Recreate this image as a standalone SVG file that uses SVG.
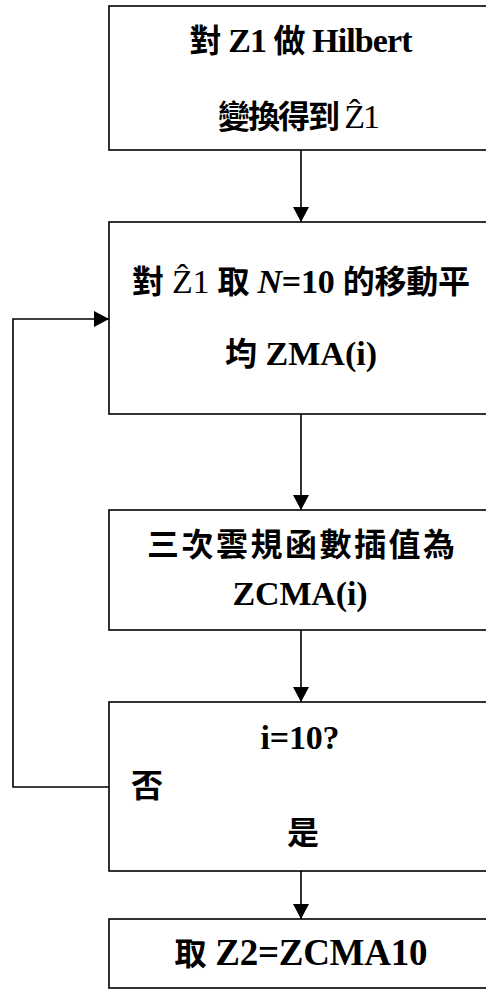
<svg xmlns="http://www.w3.org/2000/svg" width="486" height="990" viewBox="0 0 486 990">
<style>
.box{fill:#fff;stroke:#000;stroke-width:1.6}
.t{font-family:"Liberation Serif","Noto Sans CJK TC",serif;font-size:34px;font-weight:bold;fill:#000;text-anchor:middle}
.cjk{font-family:"Noto Sans CJK TC","Noto Sans CJK SC",sans-serif;font-weight:bold;font-size:32px}
.reg{font-family:"Liberation Serif","DejaVu Serif",serif;font-weight:normal}
.it{font-style:italic}
.ln{fill:none;stroke:#000;stroke-width:1.6}
</style>
<defs>
<marker id="ah" markerUnits="userSpaceOnUse" markerWidth="16" markerHeight="16" refX="15" refY="8" orient="auto">
<path d="M0,0 L15,8 L0,16 Z" fill="#000"/>
</marker>
</defs>
<g id="n1">
<rect class="box" x="109" y="6" width="380" height="144"/>
<text class="t" x="301" y="52" textLength="223" lengthAdjust="spacing"><tspan class="cjk">對</tspan> Z1 <tspan class="cjk">做</tspan> Hilbert</text>
<text class="t" x="299" y="128" textLength="162" lengthAdjust="spacing"><tspan class="cjk">變換得到</tspan> <tspan class="reg">Ẑ1</tspan></text>
</g>
<g id="n2">
<rect class="box" x="109" y="222" width="380" height="192"/>
<text class="t" x="301" y="293" textLength="338" lengthAdjust="spacing"><tspan class="cjk">對</tspan> <tspan class="reg">Ẑ1</tspan> <tspan class="cjk">取</tspan> <tspan class="it">N</tspan>=10 <tspan class="cjk">的移動平</tspan></text>
<text class="t" x="301" y="365" textLength="152" lengthAdjust="spacing"><tspan class="cjk">均</tspan> ZMA(i)</text>
</g>
<g id="n3">
<rect class="box" x="109" y="510" width="380" height="120"/>
<text class="t cjk" x="301" y="556" textLength="308" lengthAdjust="spacing">三次雲規函數插值為</text>
<text class="t" x="300" y="605" textLength="135" lengthAdjust="spacing">ZCMA(i)</text>
</g>
<g id="n4">
<rect class="box" x="109" y="702" width="380" height="169"/>
<text class="t" x="300" y="749" textLength="79" lengthAdjust="spacing">i=10?</text>
<text class="t cjk" x="147" y="797">否</text>
<text class="t cjk" x="303" y="844">是</text>
</g>
<g id="n5">
<rect class="box" x="109" y="919" width="380" height="69"/>
<text class="t" x="301" y="965" style="font-size:37px" textLength="253" lengthAdjust="spacing"><tspan class="cjk">取</tspan> Z2=ZCMA10</text>
</g>
<g id="connectors">
<line class="ln" x1="301" y1="150" x2="301" y2="222" marker-end="url(#ah)"/>
<line class="ln" x1="301" y1="414" x2="301" y2="510" marker-end="url(#ah)"/>
<line class="ln" x1="301" y1="630" x2="301" y2="702" marker-end="url(#ah)"/>
<line class="ln" x1="301" y1="871" x2="301" y2="919" marker-end="url(#ah)"/>
<path class="ln" d="M109,787 H13 V319 H109" marker-end="url(#ah)"/>
</g>
</svg>
